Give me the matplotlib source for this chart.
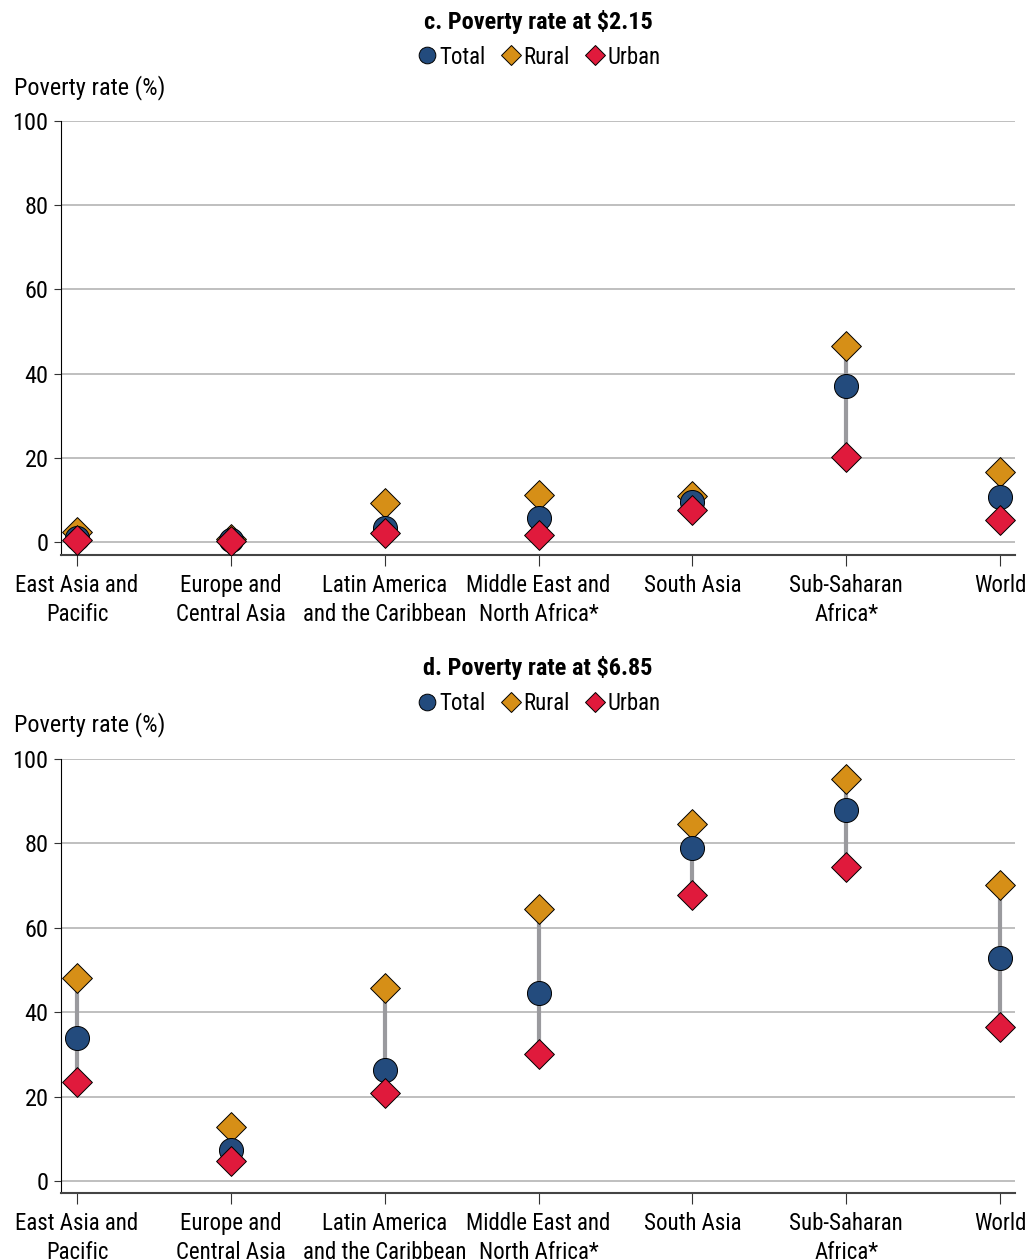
import matplotlib
matplotlib.use("Agg")
import matplotlib.pyplot as plt
from matplotlib.lines import Line2D

plt.rcParams['font.family'] = ['Roboto Condensed', 'DejaVu Sans']

regions = ["East Asia and\nPacific", "Europe and\nCentral Asia", "Latin America\nand the Caribbean",
           "Middle East and\nNorth Africa*", "South Asia", "Sub-Saharan\nAfrica*", "World"]

# panel c: poverty rate at $2.15
total_c = [0.9, 0.5, 3.4, 5.7, 9.5, 37.1, 10.7]
rural_c = [2.3, 0.6, 9.3, 11.2, 10.9, 46.6, 16.6]
urban_c = [0.5, 0.3, 2.1, 1.7, 7.6, 20.2, 5.2]

# panel d: poverty rate at $6.85
total_d = [33.9, 7.3, 26.3, 44.5, 78.9, 87.9, 52.8]
rural_d = [48.1, 12.8, 45.7, 64.5, 84.6, 95.3, 70.1]
urban_d = [23.5, 4.7, 20.9, 30.1, 67.8, 74.4, 36.5]

yticks = [0, 20, 40, 60, 80, 100]

c_total = '#234b7d'
c_rural = '#d68f17'
c_urban = '#e01a3c'
c_line = '#9a9a9e'

fig = plt.figure(figsize=(10.28, 12.6), dpi=100)


def panel(rect, title, total, rural, urban, ylim_lo, title_y, leg_y, lab_y):
    ax = fig.add_axes(rect)
    x = range(len(regions))
    # grey connector from rural to urban
    for i in x:
        ax.plot([i, i], [min(rural[i], urban[i]), max(rural[i], urban[i])],
                color=c_line, lw=3, zorder=2)
    ax.scatter(x, rural, marker='D', s=230, color=c_rural, edgecolor='black', linewidth=0.7, zorder=3)
    ax.scatter(x, total, marker='o', s=300, color=c_total, edgecolor='black', linewidth=0.7, zorder=4)
    ax.scatter(x, urban, marker='D', s=230, color=c_urban, edgecolor='black', linewidth=0.7, zorder=5)

    ax.set_xlim(-0.104, 6.097)
    ax.set_ylim(ylim_lo, 100)
    ax.set_yticks(yticks)
    ax.set_xticks(list(x))
    ax.set_xticklabels(regions, fontsize=16.5, linespacing=1.3)
    ax.tick_params(axis='y', labelsize=17.5, length=5, color='#333333', pad=4)
    ax.tick_params(axis='x', length=8, color='#333333', pad=6)
    ax.yaxis.grid(True, color='#b4b4b4', lw=1.2)
    ax.set_axisbelow(True)
    for s in ['top', 'right']:
        ax.spines[s].set_visible(False)
    ax.spines['left'].set_color('black')
    ax.spines['left'].set_bounds(ylim_lo, 100)
    ax.spines['bottom'].set_color('#444444')
    ax.spines['bottom'].set_linewidth(1.5)

    cx = rect[0] + rect[2] / 2
    fig.text(cx, title_y, title, ha='center', va='center', fontsize=17.5, fontweight='bold')
    handles = [
        Line2D([], [], marker='o', ls='', markersize=12, markerfacecolor=c_total, markeredgecolor='black', markeredgewidth=0.7),
        Line2D([], [], marker='D', ls='', markersize=10, markerfacecolor=c_rural, markeredgecolor='black', markeredgewidth=0.7),
        Line2D([], [], marker='D', ls='', markersize=10, markerfacecolor=c_urban, markeredgecolor='black', markeredgewidth=0.7),
    ]
    fig.legend(handles, ['Total', 'Rural', 'Urban'], loc='center', bbox_to_anchor=(cx, leg_y),
               ncol=3, frameon=False, fontsize=16.5, handletextpad=0.05, columnspacing=0.6,
               handlelength=1.0, borderpad=0)
    fig.text(14 / 1028, lab_y, 'Poverty rate (%)', ha='left', va='center', fontsize=17.5)
    return ax


panel([61 / 1028, 1 - 555 / 1260, 954 / 1028, 434 / 1260], 'c. Poverty rate at $2.15',
      total_c, rural_c, urban_c, -3.1, 1 - 22 / 1260, 1 - 57 / 1260, 1 - 88 / 1260)
panel([61 / 1028, 1 - 1193 / 1260, 954 / 1028, 434 / 1260], 'd. Poverty rate at $6.85',
      total_d, rural_d, urban_d, -2.8, 1 - 668 / 1260, 1 - 704 / 1260, 1 - 725 / 1260)

fig.savefig('out.png', dpi=100)
